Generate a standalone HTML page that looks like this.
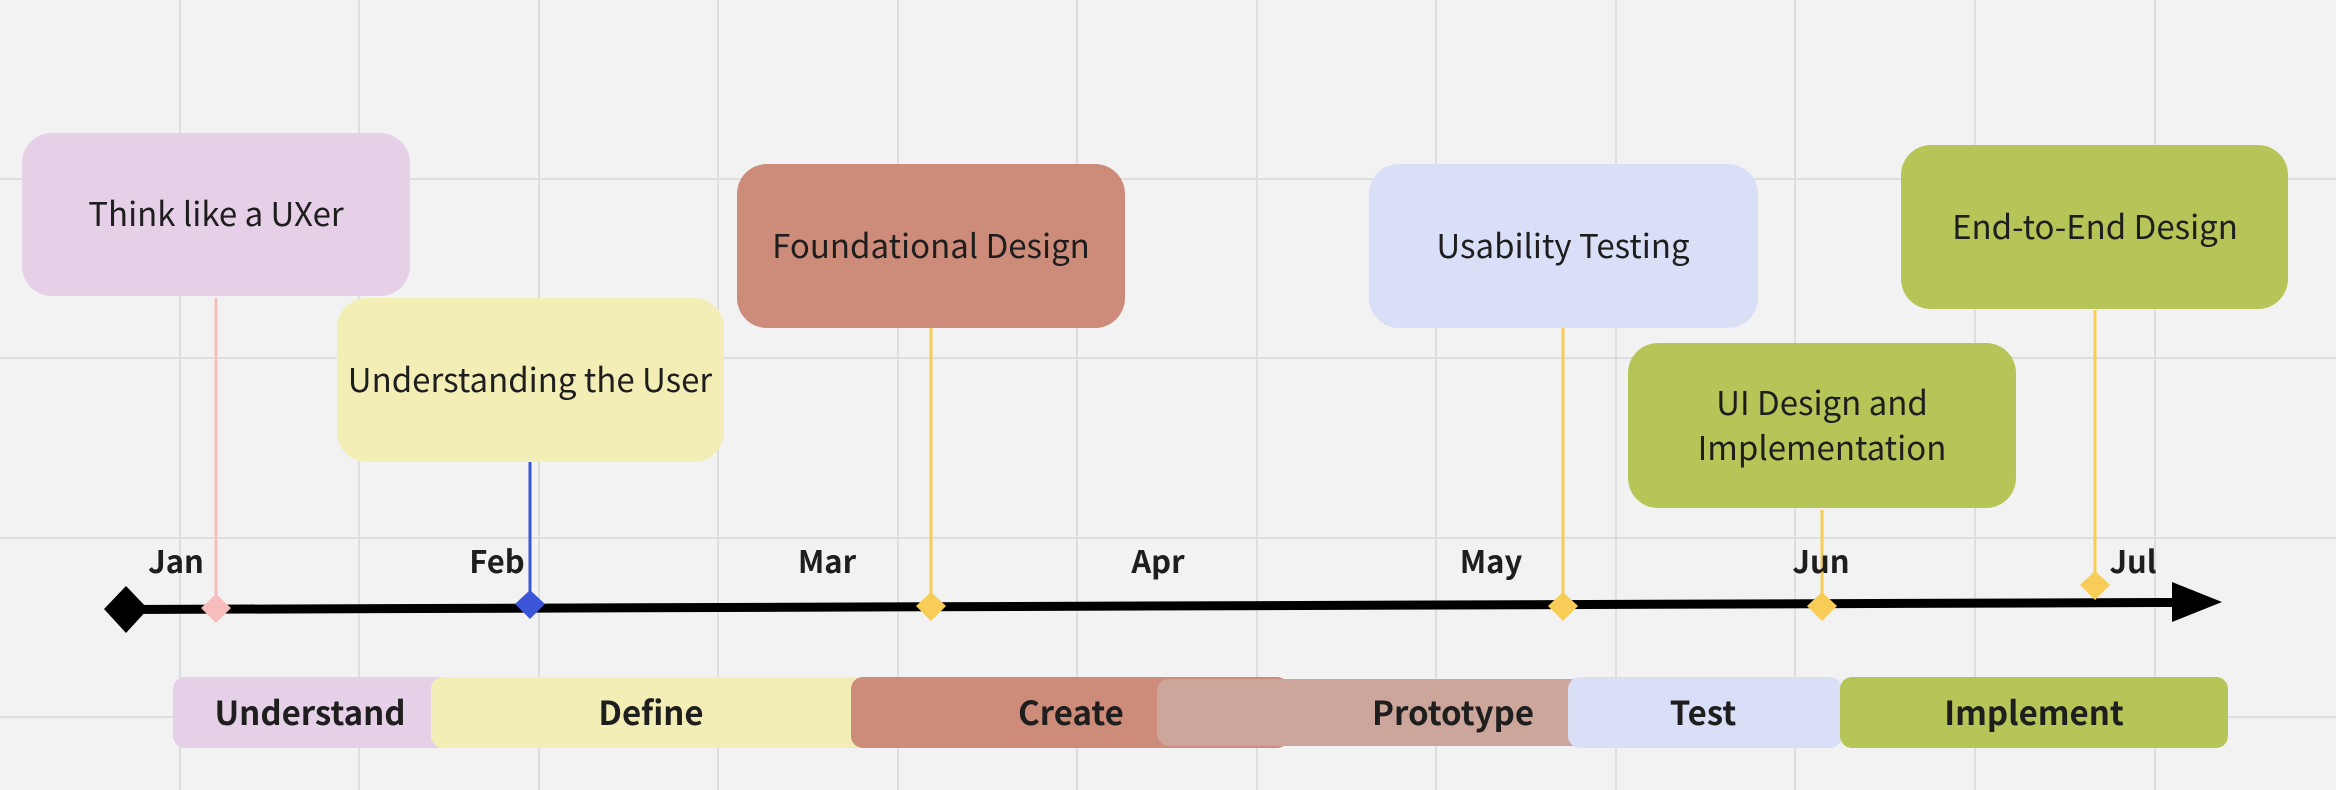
<!DOCTYPE html>
<html><head><meta charset="utf-8"><style>
html,body{margin:0;padding:0;background:#f2f2f2;}
svg{display:block;}
text{font-family:"Noto Sans CJK SC","Liberation Sans",sans-serif;fill:#1e1e1e;}
.b{font-size:33px;}
.m{font-size:31px;font-weight:bold;}
.p{font-size:33px;font-weight:bold;}
</style></head><body>
<svg width="2336" height="790" viewBox="0 0 2336 790" xmlns="http://www.w3.org/2000/svg">
<rect width="2336" height="790" fill="#f2f2f2"/>
<g stroke="#dedede" stroke-width="2">
<line x1="180" y1="0" x2="180" y2="790"/><line x1="359" y1="0" x2="359" y2="790"/><line x1="539" y1="0" x2="539" y2="790"/><line x1="718" y1="0" x2="718" y2="790"/><line x1="898" y1="0" x2="898" y2="790"/><line x1="1077" y1="0" x2="1077" y2="790"/><line x1="1257" y1="0" x2="1257" y2="790"/><line x1="1436" y1="0" x2="1436" y2="790"/><line x1="1616" y1="0" x2="1616" y2="790"/><line x1="1795" y1="0" x2="1795" y2="790"/><line x1="1975" y1="0" x2="1975" y2="790"/><line x1="2155" y1="0" x2="2155" y2="790"/>
<line x1="0" y1="179" x2="2336" y2="179"/><line x1="0" y1="358" x2="2336" y2="358"/><line x1="0" y1="538" x2="2336" y2="538"/><line x1="0" y1="717" x2="2336" y2="717"/>
</g>
<line x1="216" y1="298" x2="216" y2="608" stroke="#f7bcbc" stroke-width="3"/>
<line x1="530" y1="462" x2="530" y2="604" stroke="#3b55d6" stroke-width="3"/>
<line x1="931" y1="328" x2="931" y2="606" stroke="#f7cd57" stroke-width="3"/>
<line x1="1563" y1="328" x2="1563" y2="606" stroke="#f7cd57" stroke-width="3"/>
<line x1="1822" y1="510" x2="1822" y2="606" stroke="#f7cd57" stroke-width="3"/>
<line x1="2095" y1="310" x2="2095" y2="585" stroke="#f7cd57" stroke-width="3"/>
<rect x="22" y="133" width="388" height="163" rx="30" fill="#e6d0e8"/>
<text class="b" x="216" y="226" text-anchor="middle">Think like a UXer</text>
<rect x="337" y="298" width="387" height="164" rx="30" fill="#f2eeb5"/>
<text class="b" x="530" y="392" text-anchor="middle">Understanding the User</text>
<rect x="737" y="164" width="388" height="164" rx="30" fill="#cd8b7a"/>
<text class="b" x="931" y="258" text-anchor="middle">Foundational Design</text>
<rect x="1369" y="164" width="389" height="164" rx="30" fill="#dadff8"/>
<text class="b" x="1563" y="258" text-anchor="middle">Usability Testing</text>
<rect x="1901" y="145" width="387" height="164" rx="30" fill="#b7c457"/>
<text class="b" x="2095" y="239" text-anchor="middle">End-to-End Design</text>
<rect x="1628" y="343" width="388" height="165" rx="30" fill="#b7c457"/>
<text class="b" x="1822" y="415" text-anchor="middle">UI Design and</text>
<text class="b" x="1822" y="460" text-anchor="middle">Implementation</text>
<text class="m" x="176" y="573" text-anchor="middle">Jan</text>
<text class="m" x="497" y="573" text-anchor="middle">Feb</text>
<text class="m" x="827" y="573" text-anchor="middle">Mar</text>
<text class="m" x="1158" y="573" text-anchor="middle">Apr</text>
<text class="m" x="1491" y="573" text-anchor="middle">May</text>
<text class="m" x="1821" y="573" text-anchor="middle">Jun</text>
<text class="m" x="2133" y="573" text-anchor="middle">Jul</text>
<polygon points="126,605 2175,598 2175,607 126,614" fill="#000"/>
<polygon points="2172,582 2222,602 2172,622" fill="#000"/>
<polygon points="126,586 148,609 126,633 104,609" fill="#000"/>
<polygon points="216,594 231,608 216,623 201,608" fill="#f7bcbc"/>
<polygon points="530,590 545,604 530,619 515,604" fill="#3b55d6"/>
<polygon points="931,592 946,606 931,621 916,606" fill="#f7cd57"/>
<polygon points="1563,592 1578,606 1563,621 1548,606" fill="#f7cd57"/>
<polygon points="1822,592 1837,606 1822,621 1807,606" fill="#f7cd57"/>
<polygon points="2095,571 2110,585 2095,600 2080,585" fill="#f7cd57"/>
<rect x="173" y="677" width="280" height="71" rx="12" fill="#e6d0e8"/>
<rect x="1080" y="677" width="209" height="71" rx="12" fill="#cd8b7a"/>
<rect x="1157" y="679" width="430" height="67" rx="12" fill="#cca59b"/>
<rect x="431" y="677" width="436" height="71" rx="12" fill="#f2eeb5"/>
<rect x="851" y="677" width="330" height="71" rx="12" fill="#cd8b7a"/>
<rect x="1157" y="679" width="300" height="67" rx="12" fill="#cca59b"/>
<rect x="1568" y="677" width="274" height="71" rx="12" fill="#dadff8"/>
<rect x="1840" y="677" width="388" height="71" rx="12" fill="#b7c457"/>
<text class="p" x="310" y="725" text-anchor="middle">Understand</text>
<text class="p" x="651" y="725" text-anchor="middle">Define</text>
<text class="p" x="1071" y="725" text-anchor="middle">Create</text>
<text class="p" x="1453" y="725" text-anchor="middle">Prototype</text>
<text class="p" x="1703" y="725" text-anchor="middle">Test</text>
<text class="p" x="2034" y="725" text-anchor="middle">Implement</text>
</svg>
</body></html>
